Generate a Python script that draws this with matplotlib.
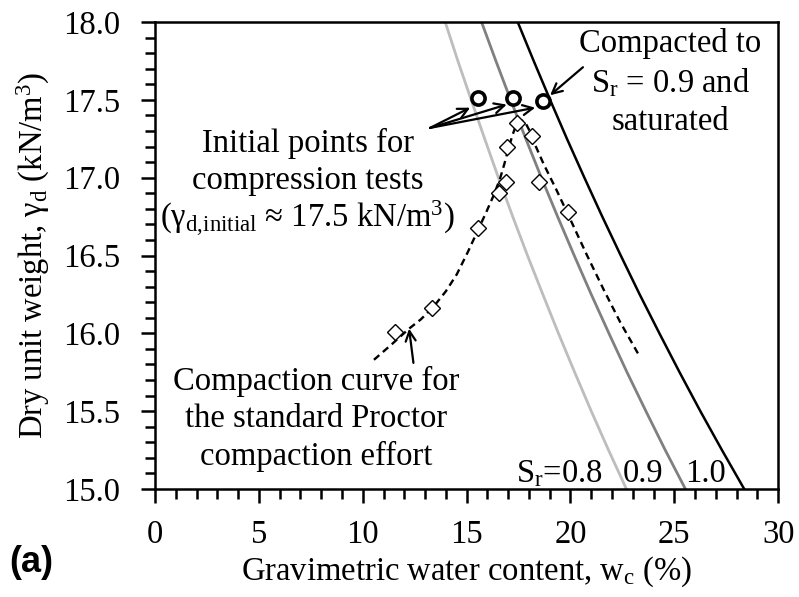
import numpy as np
import matplotlib.pyplot as plt
from matplotlib.ticker import MultipleLocator, FormatStrFormatter

plt.rcParams['font.family'] = ['Liberation Serif', 'DejaVu Serif']
plt.rcParams['mathtext.fontset'] = 'custom'
plt.rcParams['mathtext.rm'] = 'Liberation Serif'
plt.rcParams['mathtext.it'] = 'Liberation Serif:italic'

# dry unit weight levels for the saturation lines (kN/m3)
sat_gd = [15.0, 15.25, 15.5, 15.75, 16.0, 16.25, 16.5, 16.75, 17.0, 17.25, 17.5, 17.75, 18.0]
# water content (%) on each saturation line, Sr = 0.8 / 0.9 / 1.0
sat_w_08 = [22.69, 21.83, 21.00, 20.20, 19.42, 18.67, 17.93, 17.22, 16.53, 15.87, 15.22, 14.58, 13.97]
sat_w_09 = [25.53, 24.56, 23.63, 22.72, 21.85, 21.00, 20.18, 19.38, 18.60, 17.85, 17.12, 16.41, 15.72]
sat_w_10 = [28.36, 27.29, 26.25, 25.25, 24.28, 23.33, 22.42, 21.53, 20.67, 19.83, 19.02, 18.23, 17.46]

# standard Proctor test points
proctor_w = [11.56, 13.35, 15.57, 16.56, 16.90, 16.93, 17.41, 18.13, 18.50, 19.90]
proctor_gd = [16.01, 16.16, 16.68, 16.90, 16.97, 17.20, 17.35, 17.27, 16.97, 16.78]

# fitted compaction curve
curve_w = [10.54, 11.4, 12.23, 12.8, 13.4, 14.0, 14.53, 15.05, 15.57, 15.95, 16.28, 16.6,
           16.82, 17.0, 17.2, 17.41, 17.6, 17.8, 18.0, 18.3, 18.7, 19.33, 20.0, 20.8,
           21.6, 22.4, 23.25]
curve_gd = [15.83, 15.93, 16.03, 16.09, 16.17, 16.27, 16.38, 16.52, 16.67, 16.78, 16.88, 16.99,
            17.09, 17.18, 17.27, 17.35, 17.37, 17.36, 17.31, 17.21, 17.09, 16.92, 16.73, 16.50,
            16.28, 16.07, 15.87]

# initial states for the compression tests
init_w = [15.57, 17.25, 18.70]
init_gd = [17.51, 17.51, 17.49]

FS = 23.5

fig = plt.figure(figsize=(7.99, 5.97), dpi=100)
ax = fig.add_axes([0.194, 0.181, 0.780, 0.782])

ax.plot(sat_w_08, sat_gd, color='#bdbdbd', lw=2.0, zorder=2)
ax.plot(sat_w_09, sat_gd, color='#808080', lw=2.0, zorder=2)
ax.plot(sat_w_10, sat_gd, color='black', lw=1.8, zorder=2)

ax.plot(curve_w, curve_gd, color='black', lw=1.7, ls=(0, (3, 2)), zorder=3)
ax.plot(proctor_w, proctor_gd, ls='none', marker='D', ms=8.5, mfc='white',
        mec='black', mew=1.0, zorder=4)
ax.plot(init_w, init_gd, ls='none', marker='o', ms=9.5, mfc='white',
        mec='black', mew=2.6, zorder=5)

ax.set_xlim(0, 30)
ax.set_ylim(15, 18)
ax.xaxis.set_major_locator(MultipleLocator(5))
ax.xaxis.set_minor_locator(MultipleLocator(1))
ax.yaxis.set_major_locator(MultipleLocator(0.5))
ax.yaxis.set_minor_locator(MultipleLocator(0.1))
ax.yaxis.set_major_formatter(FormatStrFormatter('%.1f'))
ax.tick_params(which='major', direction='out', length=10, width=1.8, labelsize=FS)
ax.tick_params(which='minor', direction='out', length=7, width=1.8)
ax.tick_params(axis='x', which='major', pad=12)
ax.tick_params(axis='y', which='major', pad=15)
for sp in ax.spines.values():
    sp.set_linewidth(1.8)

ax.set_xlabel('Gravimetric water content, w$_\\mathregular{c}$ (%)', fontsize=FS, labelpad=3)
ax.set_ylabel('Dry unit weight, γ$_\\mathregular{d}$ (kN/m$^\\mathregular{3}$)', fontsize=FS, labelpad=8)

arrow = dict(arrowstyle='->', lw=1.6, color='black', mutation_scale=18, shrinkA=0, shrinkB=0)

ax.text(7.35, 17.22, 'Initial points for', fontsize=FS, ha='center', va='center')
ax.text(7.35, 16.98, 'compression tests', fontsize=FS, ha='center', va='center')
ax.text(7.35, 16.74, '(γ$_\\mathregular{d{,}initial}$ ≈ 17.5 kN/m$^\\mathregular{3}$)',
        fontsize=FS, ha='center', va='center')
for tx, ty in [(15.17, 17.45), (16.93, 17.47), (18.3, 17.45)]:
    ax.annotate('', xy=(tx, ty), xytext=(13.24, 17.32), arrowprops=arrow)

ax.text(24.8, 17.86, 'Compacted to', fontsize=FS, ha='center', va='center')
ax.text(24.8, 17.61, 'S$_\\mathregular{r}$ = 0.9 and', fontsize=FS, ha='center', va='center')
ax.text(24.8, 17.36, 'saturated', fontsize=FS, ha='center', va='center')
ax.annotate('', xy=(19.02, 17.53), xytext=(20.6, 17.71), arrowprops=arrow)

ax.text(7.75, 15.69, 'Compaction curve for', fontsize=FS, ha='center', va='center')
ax.text(7.75, 15.45, 'the standard Proctor', fontsize=FS, ha='center', va='center')
ax.text(7.75, 15.21, 'compaction effort', fontsize=FS, ha='center', va='center')
ax.annotate('', xy=(12.23, 16.03), xytext=(12.44, 15.81), arrowprops=arrow)

ax.text(21.57, 15.10, 'S$_\\mathregular{r}$=0.8', fontsize=FS, ha='right', va='center')
ax.text(23.5, 15.10, '0.9', fontsize=FS, ha='center', va='center')
ax.text(26.48, 15.10, '1.0', fontsize=FS, ha='center', va='center')

fig.text(0.012, 0.057, '(a)', fontsize=26, fontweight='bold',
         family=['Liberation Sans', 'DejaVu Sans'], ha='left', va='center')

fig.savefig('out.png', dpi=100)
